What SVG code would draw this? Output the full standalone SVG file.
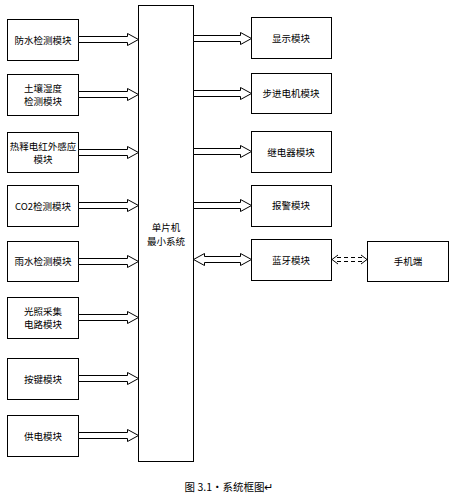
<svg xmlns="http://www.w3.org/2000/svg" width="457" height="494" viewBox="0 0 457 494">
<style>
.box{fill:#fff;stroke:#000;stroke-width:1}
.arr{fill:#fff;stroke:#000;stroke-width:1}
text{font-family:"Noto Sans CJK SC","Liberation Sans",sans-serif;font-size:9.5px;fill:#000;text-anchor:middle;dominant-baseline:central}
.dash{fill:none;stroke:#000;stroke-width:1;stroke-dasharray:4,3}
</style>
<rect width="457" height="494" fill="#fff"/>
<g id="mcu"><rect class="box" x="138.5" y="5.5" width="55" height="456"/><text x="166" y="227">单片机</text><text x="166" y="241">最小系统</text></g>
<g id="n1"><rect class="box" x="7.5" y="19.5" width="71" height="41"/><text x="43" y="40">防水检测模块</text></g>
<g id="n2"><rect class="box" x="7.5" y="74.5" width="71" height="41"/><text x="43" y="88">土壤湿度</text><text x="43" y="101">检测模块</text></g>
<g id="n3"><rect class="box" x="7.5" y="132.5" width="71" height="40"/><text x="43" y="146">热释电红外感应</text><text x="43" y="159">模块</text></g>
<g id="n4"><rect class="box" x="7.5" y="185.5" width="71" height="41"/><text x="43" y="206">CO2检测模块</text></g>
<g id="n5"><rect class="box" x="7.5" y="241.5" width="71" height="40"/><text x="43" y="261">雨水检测模块</text></g>
<g id="n6"><rect class="box" x="7.5" y="297.5" width="71" height="41"/><text x="43" y="311">光照采集</text><text x="43" y="324">电路模块</text></g>
<g id="n7"><rect class="box" x="7.5" y="358.5" width="71" height="41"/><text x="43" y="379">按键模块</text></g>
<g id="n8"><rect class="box" x="7.5" y="415.5" width="71" height="41"/><text x="43" y="436">供电模块</text></g>
<g id="r1"><rect class="box" x="251.5" y="17.5" width="80" height="41"/><text x="291" y="38">显示模块</text></g>
<g id="r2"><rect class="box" x="251.5" y="73.5" width="80" height="40"/><text x="291" y="93">步进电机模块</text></g>
<g id="r3"><rect class="box" x="251.5" y="131.5" width="80" height="41"/><text x="291" y="152">继电器模块</text></g>
<g id="r4"><rect class="box" x="251.5" y="185.5" width="80" height="41"/><text x="291" y="205">报警模块</text></g>
<g id="r5"><rect class="box" x="251.5" y="239.5" width="80" height="41"/><text x="291" y="260">蓝牙模块</text></g>
<g id="phone"><rect class="box" x="367.5" y="241.5" width="81" height="40"/><text x="408" y="261">手机端</text></g>
<g id="connectors">
<polygon class="arr" points="78.5,36.5 127.5,36.5 127.5,33.5 138.5,39.5 127.5,45.5 127.5,42.5 78.5,42.5"/>
<polygon class="arr" points="78.5,91.5 127.5,91.5 127.5,88.5 138.5,94.5 127.5,100.5 127.5,97.5 78.5,97.5"/>
<polygon class="arr" points="78.5,149.5 127.5,149.5 127.5,146.5 138.5,152.5 127.5,158.5 127.5,155.5 78.5,155.5"/>
<polygon class="arr" points="78.5,202.5 127.5,202.5 127.5,199.5 138.5,205.5 127.5,211.5 127.5,208.5 78.5,208.5"/>
<polygon class="arr" points="78.5,258.5 127.5,258.5 127.5,255.5 138.5,261.5 127.5,267.5 127.5,264.5 78.5,264.5"/>
<polygon class="arr" points="78.5,314.5 127.5,314.5 127.5,311.5 138.5,317.5 127.5,323.5 127.5,320.5 78.5,320.5"/>
<polygon class="arr" points="78.5,375.5 127.5,375.5 127.5,372.5 138.5,378.5 127.5,384.5 127.5,381.5 78.5,381.5"/>
<polygon class="arr" points="78.5,432.5 127.5,432.5 127.5,429.5 138.5,435.5 127.5,441.5 127.5,438.5 78.5,438.5"/>
<polygon class="arr" points="193.5,35.5 240.5,35.5 240.5,32.5 251.5,38.5 240.5,44.5 240.5,41.5 193.5,41.5"/>
<polygon class="arr" points="193.5,90.5 240.5,90.5 240.5,87.5 251.5,93.5 240.5,99.5 240.5,96.5 193.5,96.5"/>
<polygon class="arr" points="193.5,148.5 240.5,148.5 240.5,145.5 251.5,151.5 240.5,157.5 240.5,154.5 193.5,154.5"/>
<polygon class="arr" points="193.5,202.5 240.5,202.5 240.5,199.5 251.5,205.5 240.5,211.5 240.5,208.5 193.5,208.5"/>
<polygon class="arr" points="193.5,259.5 204.5,253.5 204.5,256.5 240.5,256.5 240.5,253.5 251.5,259.5 240.5,265.5 240.5,262.5 204.5,262.5 204.5,265.5"/>
<path class="dash" d="M337,257.5 H362 M337,261.5 H362"/>
<path fill="none" stroke="#000" stroke-width="1" d="M338,255 L332,259.5 L338,264 M361,255 L367,259.5 L361,264"/>
</g>
<text x="229" y="486" style="font-size:10.5px;font-family:'Noto Sans CJK SC','Liberation Serif',serif">图 3.1·系统框图↵</text>
</svg>
